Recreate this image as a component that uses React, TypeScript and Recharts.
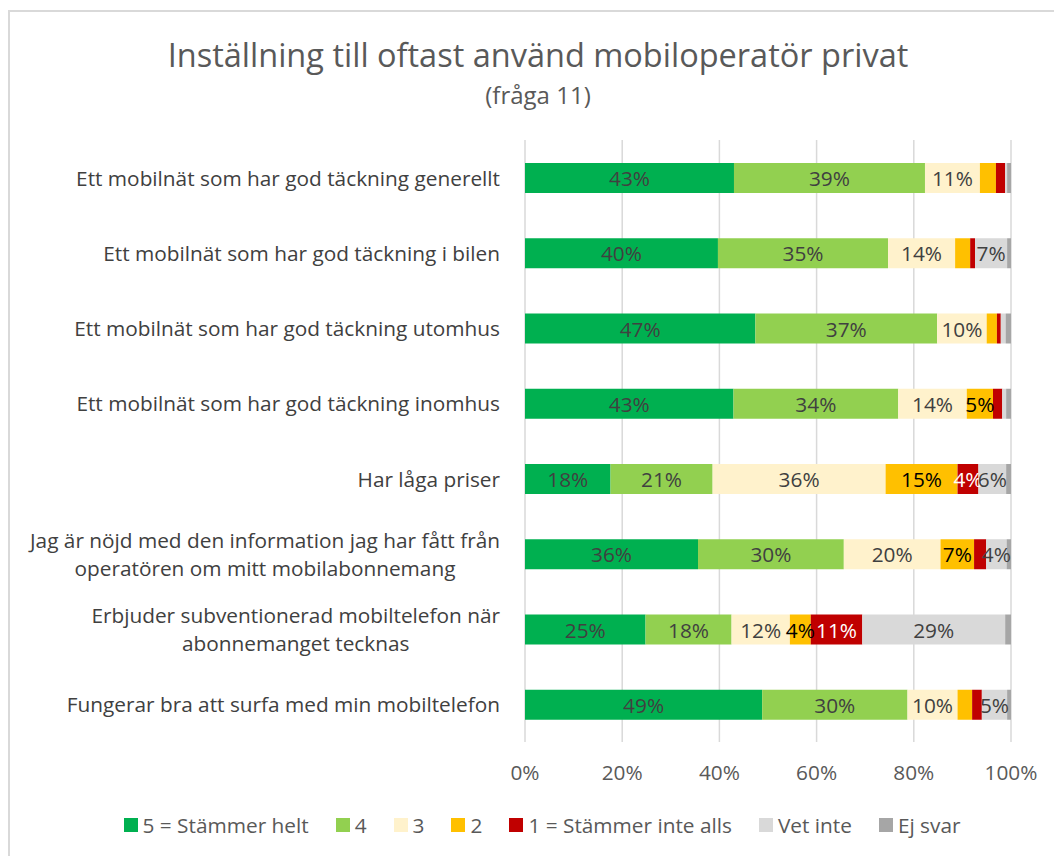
import React from 'react';
import { BarChart, Bar, XAxis, YAxis, CartesianGrid, LabelList } from 'recharts';

const categories = [
    'Ett mobilnät som har god täckning generellt',
    'Ett mobilnät som har god täckning i bilen',
    'Ett mobilnät som har god täckning utomhus',
    'Ett mobilnät som har god täckning inomhus',
    'Har låga priser',
    'Jag är nöjd med den information jag har fått från\noperatören om mitt mobilabonnemang',
    'Erbjuder subventionerad mobiltelefon när\nabonnemanget tecknas',
    'Fungerar bra att surfa med min mobiltelefon',
];

// values in percent
const stammerHelt = [43.0, 39.7, 47.4, 42.9, 17.6, 35.6, 24.8, 48.8];
const fyra = [39.3, 35.0, 37.4, 33.9, 21.0, 30.0, 17.7, 29.9];
const tre = [11.3, 13.8, 10.2, 14.1, 35.6, 19.9, 12.0, 10.3];
const tva = [3.3, 3.1, 2.1, 5.4, 14.8, 6.9, 4.3, 3.0];
const stammerInte = [1.9, 1.0, 0.8, 1.9, 4.3, 2.5, 10.6, 2.0];
const vetInte = [0.4, 6.6, 1.0, 0.8, 5.7, 4.2, 29.4, 5.2];
const ejSvar = [0.8, 0.8, 1.1, 1.0, 1.0, 0.9, 1.2, 0.8];

const xTicks = [0, 20, 40, 60, 80, 100];

const series = [
    { key: 'helt', name: '5 = Stämmer helt', values: stammerHelt, color: '#00B050', label: '#404040' },
    { key: 'fyra', name: '4', values: fyra, color: '#92D050', label: '#404040' },
    { key: 'tre', name: '3', values: tre, color: '#FFF2CC', label: '#404040' },
    { key: 'tva', name: '2', values: tva, color: '#FFC000', label: '#000000' },
    { key: 'inte', name: '1 = Stämmer inte alls', values: stammerInte, color: '#C00000', label: '#FFFFFF' },
    { key: 'vet', name: 'Vet inte', values: vetInte, color: '#D9D9D9', label: '#404040' },
    { key: 'ej', name: 'Ej svar', values: ejSvar, color: '#A6A6A6', label: '#404040' },
];

const chartData = categories.map((cat, i) => {
    const row: Record<string, string | number> = { cat };
    series.forEach((s) => { row[s.key] = s.values[i]; });
    return row;
});

const FONT = '"Open Sans", "Liberation Sans", sans-serif';
const FS = 20.8;
const LABEL_RIGHT = 500;

let ctx: CanvasRenderingContext2D | null = null;
const measure = (t: string, size: number) => {
    if (!ctx) ctx = document.createElement('canvas').getContext('2d');
    if (!ctx) return t.length * size * 0.5;
    ctx.font = `${size}px "Open Sans"`;
    return ctx.measureText(t).width;
};

const CategoryTick = (props: { y?: number; payload?: { value: string } }) => {
    const { y = 0, payload } = props;
    if (!payload) return null;
    const lines = payload.value.split('\n');
    if (lines.length === 1) {
        return (
            <text x={LABEL_RIGHT} y={y} textAnchor="end" dominantBaseline="central" fontSize={FS} fill="#404040" fontFamily={FONT}>
                {lines[0]}
            </text>
        );
    }
    // multi-line labels are centred on each other, longest line right-aligned
    const maxW = Math.max(...lines.map((l) => measure(l, FS)));
    const cx = LABEL_RIGHT - maxW / 2;
    return (
        <text x={cx} y={y} textAnchor="middle" fontSize={FS} fill="#404040" fontFamily={FONT}>
            {lines.map((l, i) => (
                <tspan key={i} x={cx} y={y + (i - (lines.length - 1) / 2) * 28} dominantBaseline="central">{l}</tspan>
            ))}
        </text>
    );
};

const makeLabel = (color: string) => (props: any) => {
    const { x, y, width, height, value } = props;
    if (value < 3.5) return null;
    return (
        <text x={x + width / 2} y={y + height / 2} textAnchor="middle" dominantBaseline="central" fontSize={FS} fill={color} fontFamily={FONT}>
            {Math.round(value)}%
        </text>
    );
};

export default function App() {
    return (
        <div style={{ position: 'absolute', left: 0, top: 0, width: 1054, height: 856, overflow: 'hidden', background: '#fff', fontFamily: FONT }}>
            <div style={{ position: 'absolute', left: 8, top: 10, width: 1200, height: 1000, border: '2px solid #D9D9D9', boxSizing: 'border-box' }} />
            <div style={{ position: 'absolute', left: 0, width: 1076, top: 32, textAlign: 'center', fontSize: 32.5, color: '#595959' }}>
                Inställning till oftast använd mobiloperatör privat
            </div>
            <div style={{ position: 'absolute', left: 0, width: 1076, top: 78, textAlign: 'center', fontSize: 24, color: '#595959' }}>
                (fråga 11)
            </div>
            <div style={{ position: 'absolute', left: 0, top: 0 }}>
                <BarChart
                    width={1054}
                    height={856}
                    data={chartData}
                    layout="vertical"
                    barSize={30}
                    margin={{ top: 140, right: 43, bottom: 84, left: 0 }}
                >
                    <CartesianGrid horizontal={false} stroke="#D9D9D9" strokeWidth={1.5} />
                    <XAxis
                        type="number"
                        domain={[0, 100]}
                        ticks={xTicks}
                        tickFormatter={(v) => `${v}%`}
                        axisLine={false}
                        tickLine={false}
                        tickMargin={17}
                        tick={{ fontSize: FS, fill: '#595959', fontFamily: FONT }}
                        interval={0}
                    />
                    <YAxis
                        type="category"
                        dataKey="cat"
                        width={525}
                        axisLine={false}
                        tickLine={false}
                        tick={<CategoryTick />}
                        interval={0}
                    />
                    {series.map((s) => (
                        <Bar key={s.key} dataKey={s.key} name={s.name} stackId="a" fill={s.color} isAnimationActive={false}>
                            <LabelList dataKey={s.key} content={makeLabel(s.label)} />
                        </Bar>
                    ))}
                </BarChart>
            </div>
            <div style={{ position: 'absolute', left: 0, width: 1084, top: 811, display: 'flex', justifyContent: 'center', gap: 27, fontSize: FS, color: '#595959' }}>
                {series.map((s) => (
                    <div key={s.key} style={{ display: 'flex', alignItems: 'center' }}>
                        <div style={{ width: 14, height: 14, background: s.color, marginRight: 5 }} />
                        <span>{s.name}</span>
                    </div>
                ))}
            </div>
        </div>
    );
}
